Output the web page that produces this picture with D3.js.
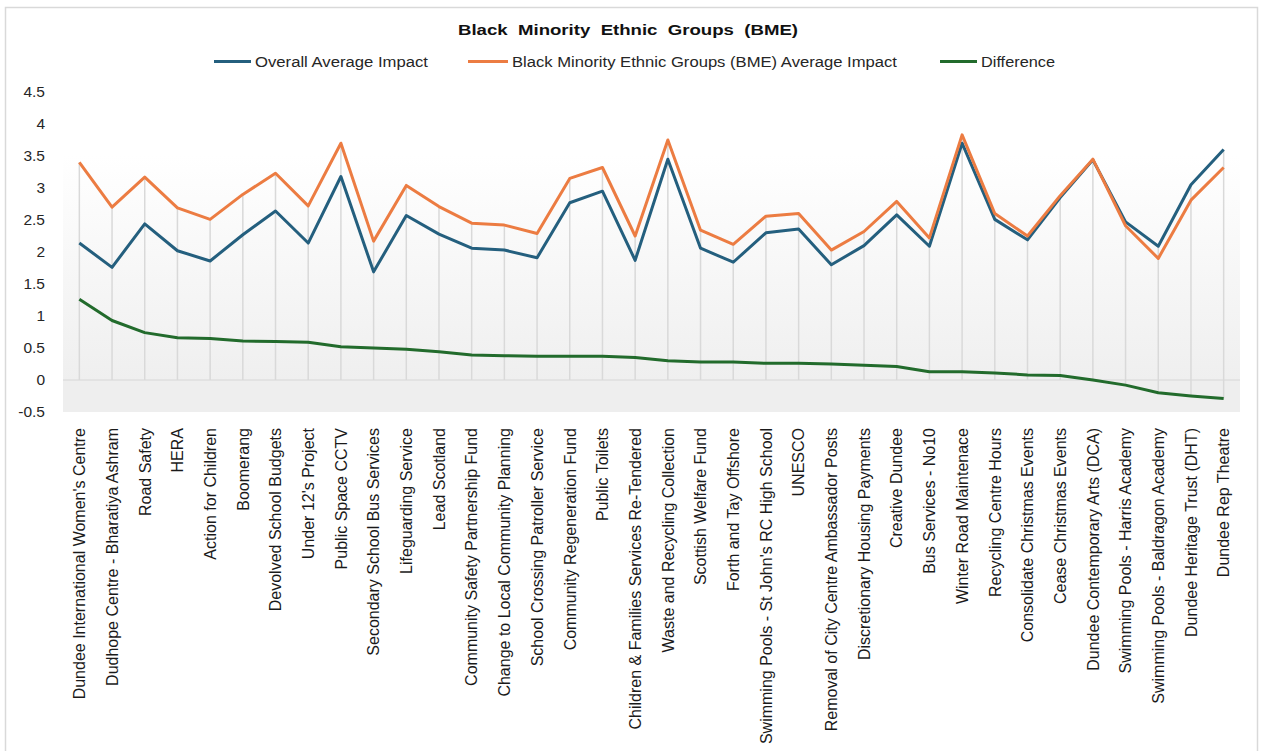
<!DOCTYPE html>
<html>
<head>
<meta charset="utf-8">
<script src="https://cdn.jsdelivr.net/npm/d3@7"></script>
<style>
  html, body { margin: 0; padding: 0; background: #fff; }
  svg { display: block; font-family: "Liberation Sans", Arial, sans-serif; }
</style>
</head>
<body>
<svg id="chart" width="1261" height="751"></svg>
<script>
const categories = [
  "Dundee International Women's Centre",
  "Dudhope Centre - Bharatiya Ashram",
  "Road Safety",
  "HERA",
  "Action for Children",
  "Boomerang",
  "Devolved School Budgets",
  "Under 12's Project",
  "Public Space CCTV",
  "Secondary School Bus Services",
  "Lifeguarding Service",
  "Lead Scotland",
  "Community Safety Partnership Fund",
  "Change to Local Community Planning",
  "School Crossing Patroller Service",
  "Community Regeneration Fund",
  "Public Toilets",
  "Children & Families Services Re-Tendered",
  "Waste and Recycling Collection",
  "Scottish Welfare Fund",
  "Forth and Tay Offshore",
  "Swimming Pools - St John's RC High School",
  "UNESCO",
  "Removal of City Centre Ambassador Posts",
  "Discretionary Housing Payments",
  "Creative Dundee",
  "Bus Services - No10",
  "Winter Road Maintenace",
  "Recycling Centre Hours",
  "Consolidate Christmas Events",
  "Cease Christmas Events",
  "Dundee Contemporary Arts (DCA)",
  "Swimming Pools - Harris Academy",
  "Swimming Pools - Baldragon Academy",
  "Dundee Heritage Trust (DHT)",
  "Dundee Rep Theatre"
];

const overallAverage = [
  2.14, 1.76, 2.44, 2.02, 1.86, 2.27, 2.64, 2.14, 3.18, 1.69,
  2.57, 2.28, 2.06, 2.03, 1.91, 2.77, 2.95, 1.87, 3.45, 2.06,
  1.84, 2.30, 2.36, 1.80, 2.10, 2.58, 2.09, 3.70, 2.51, 2.19,
  2.85, 3.44, 2.47, 2.09, 3.05, 3.60
];

const bmeAverage = [
  3.40, 2.70, 3.17, 2.69, 2.51, 2.90, 3.23, 2.72, 3.70, 2.17,
  3.04, 2.71, 2.45, 2.42, 2.29, 3.15, 3.32, 2.25, 3.75, 2.34,
  2.12, 2.56, 2.60, 2.03, 2.32, 2.79, 2.22, 3.83, 2.60, 2.25,
  2.88, 3.45, 2.41, 1.90, 2.81, 3.32
];

const difference = [
  1.26, 0.93, 0.74, 0.66, 0.65, 0.61, 0.60, 0.59, 0.52, 0.50,
  0.48, 0.44, 0.39, 0.38, 0.37, 0.37, 0.37, 0.35, 0.30, 0.28,
  0.28, 0.26, 0.26, 0.25, 0.23, 0.21, 0.13, 0.13, 0.11, 0.08,
  0.07, 0.00, -0.08, -0.20, -0.25, -0.29
];

const yTicks = [-0.5, 0, 0.5, 1, 1.5, 2, 2.5, 3, 3.5, 4, 4.5];

const seriesNames = [
  "Overall Average Impact",
  "Black Minority Ethnic Groups (BME) Average Impact",
  "Difference"
];
const chartTitle = "Black  Minority  Ethnic  Groups  (BME)";

// ---------- drawing ----------
(function () {
const svg = d3.select("#chart");
const colors = ["#245f7e", "#ec7c42", "#226b2c"];
const series = [overallAverage, bmeAverage, difference];

const pLeft = 63, pRight = 1240, pTop = 92, pBottom = 412;

const x = d3.scalePoint().domain(categories).range([pLeft, pRight]).padding(0.5);
const y = d3.scaleLinear().domain([-0.5, 4.5]).range([pBottom, pTop]);

// outer border
svg.append("rect")
  .attr("x", 5.5).attr("y", 7.5).attr("width", 1252).attr("height", 770)
  .attr("fill", "#fff").attr("stroke", "#d9d9d9").attr("stroke-width", 1.5);

// backgrounds
const defs = svg.append("defs");
const grad = defs.append("linearGradient").attr("id", "bg")
  .attr("x1", 0).attr("y1", 0).attr("x2", 0).attr("y2", 1);
grad.append("stop").attr("offset", "0%").attr("stop-color", "#ffffff");
grad.append("stop").attr("offset", "22%").attr("stop-color", "#ffffff");
grad.append("stop").attr("offset", "100%").attr("stop-color", "#efefef");

svg.append("rect")
  .attr("x", pLeft).attr("y", y(4.5))
  .attr("width", pRight - pLeft).attr("height", y(0) - y(4.5))
  .attr("fill", "url(#bg)");
svg.append("rect")
  .attr("x", pLeft).attr("y", y(0))
  .attr("width", pRight - pLeft).attr("height", y(-0.5) - y(0))
  .attr("fill", "#eeeeee");

// zero line
svg.append("line")
  .attr("x1", pLeft).attr("x2", pRight)
  .attr("y1", y(0)).attr("y2", y(0))
  .attr("stroke", "#d6d6d6").attr("stroke-width", 1);

// drop lines
svg.append("g").selectAll("line")
  .data(categories)
  .join("line")
  .attr("x1", d => x(d)).attr("x2", d => x(d))
  .attr("y1", (d, i) => y(Math.max(0, overallAverage[i], bmeAverage[i], difference[i])))
  .attr("y2", (d, i) => y(Math.min(0, overallAverage[i], bmeAverage[i], difference[i])))
  .attr("stroke", "#d9d9d9").attr("stroke-width", 1.5);

// y axis
const yAxis = svg.append("g")
  .attr("transform", `translate(45,0)`)
  .call(d3.axisLeft(y).tickValues(yTicks).tickSize(0).tickPadding(0)
    .tickFormat(d => String(d)));
yAxis.select(".domain").remove();
yAxis.selectAll("text")
  .attr("fill", "#262626")
  .style("font-size", "15.5px")
  .style("font-family", "'Liberation Sans', Arial, sans-serif");

// x labels
svg.append("g").selectAll("text")
  .data(categories)
  .join("text")
  .attr("transform", d => `translate(${x(d)},428) rotate(-90)`)
  .attr("text-anchor", "end")
  .attr("dy", "0.36em")
  .attr("fill", "#1a1a1a")
  .style("font-size", "16px")
  .text(d => d);

// lines
const line = d3.line()
  .x((d, i) => x(categories[i]))
  .y(d => y(d));

series.forEach((s, k) => {
  svg.append("path")
    .datum(s)
    .attr("d", line)
    .attr("fill", "none")
    .attr("stroke", colors[k])
    .attr("stroke-width", 3)
    .attr("stroke-linejoin", "round");
});

// title
svg.append("text")
  .attr("x", 458).attr("y", 35)
  .attr("textLength", 340).attr("lengthAdjust", "spacingAndGlyphs")
  .style("font-size", "15.5px").style("font-weight", "bold")
  .style("white-space", "pre")
  .attr("fill", "#111")
  .text(chartTitle);

// legend
const legendItems = [
  { lx: 214, tx: 255, tw: 173 },
  { lx: 468, tx: 512, tw: 385 },
  { lx: 940, tx: 981, tw: 74 }
];
const lg = svg.append("g");
seriesNames.forEach((name, k) => {
  const it = legendItems[k];
  lg.append("line")
    .attr("x1", it.lx).attr("x2", it.tx - 4)
    .attr("y1", 61.5).attr("y2", 61.5)
    .attr("stroke", colors[k]).attr("stroke-width", 3);
  lg.append("text")
    .attr("x", it.tx).attr("y", 67)
    .attr("textLength", it.tw).attr("lengthAdjust", "spacingAndGlyphs")
    .style("font-size", "15.5px")
    .attr("fill", "#262626")
    .text(name);
});
})();
</script>
</body>
</html>
